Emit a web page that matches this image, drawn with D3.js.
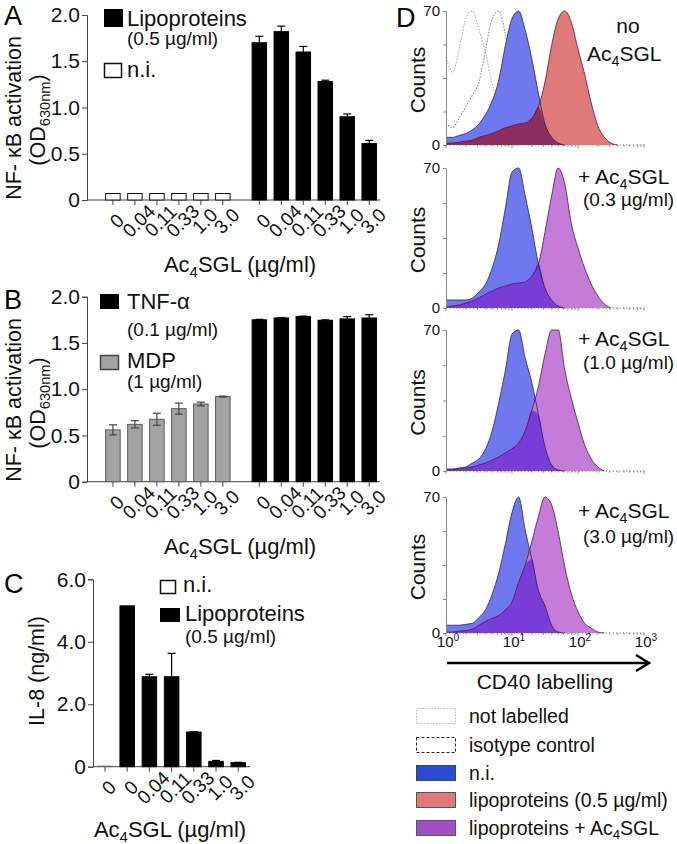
<!DOCTYPE html>
<html><head><meta charset="utf-8">
<script src="https://cdn.jsdelivr.net/npm/d3@7/dist/d3.min.js"></script>
<style>body{margin:0;background:#fff}svg{display:block}</style>
</head><body>
<svg id="fig" width="677" height="844"></svg>
<script>
// ---------------- DATA ----------------
const concLabels = ["0","0.04","0.11","0.33","1.0","3.0"];
// Panel A: NF-kB activation (OD630nm)
const aNi = [0.07,0.07,0.07,0.07,0.07,0.07];
const aLipo = [1.70,1.82,1.60,1.28,0.90,0.61];
const aLipoErr = [0.07,0.06,0.06,0.015,0.03,0.035];
// Panel B
const bMdp = [0.56,0.62,0.675,0.79,0.84,0.92];
const bMdpErr = [0.055,0.04,0.065,0.06,0.02,0.005];
const bTnf = [1.75,1.77,1.785,1.745,1.76,1.77];
const bTnfErr = [0.005,0.005,0.005,0.005,0.025,0.035];
const abTicks = [0,0.5,1.0,1.5,2.0];
const abTickLabels = ["0","0.5","1.0","1.5","2.0"];
// Panel C: IL-8 (ng/ml)
const cLabels = ["0","0","0.04","0.11","0.33","1.0","3.0"];
const cGroups = ["ni","lipo","lipo","lipo","lipo","lipo","lipo"];
const cValues = [0.02,5.15,2.88,2.88,1.11,0.17,0.13];
const cErr = [0,0,0.08,0.75,0.01,0.03,0.01];
const cTicks = [0,2,4,6];
const cTickLabels = ["0","2.0","4.0","6.0"];
// Panel D: flow cytometry histograms, counts at log10(CD40) channels
const logBins = [0,0.1,0.2,0.3,0.4,0.5,0.6,0.7,0.8,0.9,1.0,1.1,1.2,1.3,1.4,1.5,1.6,1.7,1.8,1.9,2.0,2.1,2.2,2.3,2.4,2.5,2.6];
const notLabelled = [46,38,50,66,70,60,48,32,20,14,9,6,4,2.5,1,0,0,0,0,0,0,0,0,0,0,0,0];
const isotype     = [11.5,9,14,20,26,33,50,66,70,58,40,27,18,12,7,4,2,0.5,0,0,0,0,0,0,0,0,0];
const ni1   = [4,4,5,6,8,11,16,23,34,52,66,70,60,45,27,11,4,1,0,0,0,0,0,0,0,0,0];
const lipo1 = [1,1,1.5,2,2.5,4,5,6,7.5,9,10,11,11.5,14,20,33,52,66,70,64,50,37,22,10,4,1,0];
const ni2   = [4,4,4,4,5,8,12,20,32,50,68,70,56,40,22,10,4,1,0,0,0,0,0,0,0,0,0];
const sgl03 = [0.5,1,1.5,2.5,3.5,5,7,8.5,10,11,12,12.5,13,16,22,38,56,70,62,42,30,20,12,6,2,0,0];
const ni3   = [1,1,1.5,2,4,6,11,20,34,50,68,70,56,44,28,12,3,0.5,0,0,0,0,0,0,0,0,0];
const sgl10 = [0.5,0.7,1,1.5,2,3,4,5.5,7,9,11,14,20,30,42,58,70,70,50,36,24,13,6,2,0,0,0];
const ni4   = [4,4,4,4.5,5,8,12,20,31,46,62,70,53,38,22,14,4,0.5,0,0,0,0,0,0,0,0,0];
const sgl30 = [0.5,0.5,1,1.2,2,4,6,7.5,9,12,16,26,35,47,60,70,66,52,34,20,11,5,2.5,0.5,0,0,0];
const dTicks = [0,17.5,35,52.5,70];
const dTickLabels = ["0","","","","70"];
const dDecades = [1,10,100,1000];
const dDecadeExp = ["0","1","2","3"];
const legendD = ["not labelled","isotype control","n.i.","lipoproteins (0.5 µg/ml)","lipoproteins + Ac4SGL"];

// ---------------- HELPERS ----------------
const FONT = "'Liberation Sans', Arial, Helvetica, sans-serif";
const svg = d3.select("#fig").style("font-family", FONT);
svg.append("rect").attr("width",677).attr("height",844).attr("fill","#fff");
const AX = "#444";

// parts: array of [text, kind] kind: undefined | "sub" | "sup"
function rich(g, x, y, parts, size, anchor, rotate) {
  const t = g.append("text").attr("font-size", size).attr("fill", "#111")
    .attr("text-anchor", anchor || "start");
  if (rotate) t.attr("transform", `translate(${x},${y}) rotate(${rotate})`);
  else t.attr("x", x).attr("y", y);
  let cur = 0;
  parts.forEach(p => {
    const [s, kind] = Array.isArray(p) ? p : [p];
    let shift = 0, fs = size;
    if (kind === "sub") { shift = size * 0.22; fs = size * 0.68; }
    if (kind === "sup") { shift = -size * 0.42; fs = size * 0.68; }
    t.append("tspan").attr("dy", shift - cur).attr("font-size", fs).text(s);
    cur = shift;
  });
  return t;
}
const ac4 = (rest) => ["Ac", ["4","sub"], "SGL" + (rest || "")];

function yAxis(g, x, y, ticks, labels, size) {
  const ax = d3.axisLeft(y).tickValues(ticks).tickSize(5).tickPadding(2)
    .tickFormat((d, i) => labels[i]);
  const a = g.append("g").attr("transform", `translate(${x},0)`).call(ax);
  a.select(".domain").attr("stroke", AX);
  a.selectAll(".tick line").attr("stroke", AX);
  a.selectAll("text").attr("font-family", FONT).attr("font-size", size).attr("fill", "#111");
  return a;
}

// ---------------- BAR PANELS A & B ----------------
const groupOffset = 6.66;
function abPanel(top, bottom, series) {
  const g = svg.append("g");
  const y = d3.scaleLinear().domain([0, 2]).range([bottom, top]);
  const x = d3.scaleLinear().domain([-1.18, 12.15]).range([87, 380]);
  const bw = 14.5;
  yAxis(g, 87, y, abTicks, abTickLabels, 21);
  g.append("line").attr("x1", x(-1.18)).attr("x2", x(12.15)).attr("y1", y(0)).attr("y2", y(0)).attr("stroke", AX);
  series.forEach((s, si) => {
    const off = si * groupOffset;
    s.values.forEach((v, i) => {
      const cx = x(i + off);
      g.append("rect").attr("x", cx - bw / 2).attr("width", bw)
        .attr("y", y(v)).attr("height", y(0) - y(v))
        .attr("fill", s.fill).attr("stroke", s.stroke).attr("stroke-width", 1);
      if (s.err) {
        const e = s.err[i];
        const ec = s.errColor;
        g.append("line").attr("x1", cx).attr("x2", cx).attr("y1", y(v + e)).attr("y2", y(s.both ? v - e : v)).attr("stroke", ec).attr("stroke-width", 1.2);
        g.append("line").attr("x1", cx - 4).attr("x2", cx + 4).attr("y1", y(v + e)).attr("y2", y(v + e)).attr("stroke", ec).attr("stroke-width", 1.2);
        if (s.both) g.append("line").attr("x1", cx - 4).attr("x2", cx + 4).attr("y1", y(v - e)).attr("y2", y(v - e)).attr("stroke", ec).attr("stroke-width", 1.2);
      }
      g.append("line").attr("x1", cx).attr("x2", cx).attr("y1", y(0)).attr("y2", y(0) + 5).attr("stroke", AX);
      g.append("text").attr("transform", `translate(${cx + 5},${y(0) + 22}) rotate(-45)`)
        .attr("text-anchor", "middle").attr("dominant-baseline", "middle")
        .attr("font-size", 19).attr("fill", "#111").text(concLabels[i]);
    });
  });
  rich(g, 240, y(0) + 72, ac4(" (µg/ml)"), 22, "middle");
  return {g, x, y};
}

// Panel A
const A = abPanel(15, 200, [
  {values: aNi, fill: "#fff", stroke: "#111"},
  {values: aLipo, fill: "#000", stroke: "#000", err: aLipoErr, errColor: "#000"}
]);
svg.append("text").attr("x", 4).attr("y", 25).attr("font-size", 27).text("A");
rich(A.g, 21, 118, ["NF- κB activation"], 21.5, "middle", -90);
rich(A.g, 45, 120, ["(OD", ["630nm", "sub"], ")"], 21.5, "middle", -90);
A.g.append("rect").attr("x", 104).attr("y", 9).attr("width", 19).attr("height", 18).attr("fill", "#000");
rich(A.g, 127, 26, ["Lipoproteins"], 22);
rich(A.g, 127, 45, ["(0.5 µg/ml)"], 19);
A.g.append("rect").attr("x", 104.5).attr("y", 63.5).attr("width", 17).attr("height", 14).attr("fill", "#fff").attr("stroke", "#111").attr("stroke-width", 1.5);
rich(A.g, 127, 77, ["n.i."], 22);

// Panel B
const B = abPanel(296.7, 481.7, [
  {values: bMdp, fill: "#a3a3a3", stroke: "#5a5a5a", err: bMdpErr, errColor: "#444", both: true},
  {values: bTnf, fill: "#000", stroke: "#000", err: bTnfErr, errColor: "#000"}
]);
svg.append("text").attr("x", 4).attr("y", 309).attr("font-size", 27).text("B");
rich(B.g, 21, 400, ["NF- κB activation"], 21.5, "middle", -90);
rich(B.g, 45, 403, ["(OD", ["630nm", "sub"], ")"], 21.5, "middle", -90);
B.g.append("rect").attr("x", 100).attr("y", 294).attr("width", 19).attr("height", 15).attr("fill", "#000");
rich(B.g, 127, 309, ["TNF-α"], 22);
rich(B.g, 127, 336, ["(0.1 µg/ml)"], 19);
B.g.append("rect").attr("x", 100.5).attr("y", 355.5).attr("width", 18).attr("height", 14).attr("fill", "#a3a3a3").attr("stroke", "#444").attr("stroke-width", 1.5);
rich(B.g, 127, 368, ["MDP"], 22);
rich(B.g, 127, 388, ["(1 µg/ml)"], 19);

// ---------------- PANEL C ----------------
(function () {
  const g = svg.append("g");
  const y = d3.scaleLinear().domain([0, 6]).range([766.7, 579.3]);
  const x = d3.scaleLinear().domain([-0.54, 6.53]).range([93, 250]);
  const bw = 14.5;
  yAxis(g, 93, y, cTicks, cTickLabels, 21);
  g.append("line").attr("x1", 93).attr("x2", x(6.53)).attr("y1", y(0)).attr("y2", y(0)).attr("stroke", AX);
  cValues.forEach((v, i) => {
    const cx = x(i);
    const ni = cGroups[i] === "ni";
    g.append("rect").attr("x", cx - bw / 2).attr("width", bw).attr("y", y(v)).attr("height", y(0) - y(v))
      .attr("fill", ni ? "#fff" : "#000").attr("stroke", ni ? "#666" : "#000").attr("stroke-width", ni ? 0.8 : 1);
    if (cErr[i] > 0) {
      g.append("line").attr("x1", cx).attr("x2", cx).attr("y1", y(v + cErr[i])).attr("y2", y(v)).attr("stroke", "#000").attr("stroke-width", 1.2);
      g.append("line").attr("x1", cx - 4).attr("x2", cx + 4).attr("y1", y(v + cErr[i])).attr("y2", y(v + cErr[i])).attr("stroke", "#000").attr("stroke-width", 1.2);
    }
    g.append("line").attr("x1", cx).attr("x2", cx).attr("y1", y(0)).attr("y2", y(0) + 5).attr("stroke", AX);
    g.append("text").attr("transform", `translate(${cx + 5},${y(0) + 22}) rotate(-45)`)
      .attr("text-anchor", "middle").attr("dominant-baseline", "middle")
      .attr("font-size", 19).attr("fill", "#111").text(cLabels[i]);
  });
  rich(g, 170, y(0) + 70, ac4(" (µg/ml)"), 22, "middle");
  svg.append("text").attr("x", 4).attr("y", 593).attr("font-size", 27).text("C");
  rich(g, 44, 671, ["IL-8 (ng/ml)"], 21.5, "middle", -90);
  g.append("rect").attr("x", 160.5).attr("y", 580.5).attr("width", 15).attr("height", 13).attr("fill", "#fff").attr("stroke", "#111").attr("stroke-width", 1.5);
  rich(g, 183, 592, ["n.i."], 22);
  g.append("rect").attr("x", 160).attr("y", 608).attr("width", 20).attr("height", 14).attr("fill", "#000");
  rich(g, 185, 621, ["Lipoproteins"], 22);
  rich(g, 185, 643, ["(0.5 µg/ml)"], 19);
})();

// ---------------- PANEL D ----------------
const x = d3.scaleLog().domain([1, 1000]).range([446, 644]);
const BLUE = "#7078f0", RED = "#e07a78", OV_RED = "#8c2e62", PURPLE = "#c47cd8", OV_PUR = "#7a3cd6";
const subs = [
  {top: 11, bottom: 145, other: lipo1, ni: ni1, fill: RED, ov: OV_RED, controls: true},
  {top: 168, bottom: 308, other: sgl03, ni: ni2, fill: PURPLE, ov: OV_PUR},
  {top: 330, bottom: 471, other: sgl10, ni: ni3, fill: PURPLE, ov: OV_PUR},
  {top: 497, bottom: 633, other: sgl30, ni: ni4, fill: PURPLE, ov: OV_PUR}
];
subs.forEach((s, k) => {
  const g = svg.append("g");
  const y = d3.scaleLinear().domain([0, 70]).range([s.bottom, s.top]);
  const pts = arr => arr.map((c, i) => [Math.pow(10, logBins[i]), c]);
  const area = d3.area().x(d => x(d[0])).y0(y(0)).y1(d => y(d[1])).curve(d3.curveMonotoneX);
  const line = d3.line().x(d => x(d[0])).y(d => y(d[1])).curve(d3.curveMonotoneX);
  const trim = arr => {
    let last = arr.length - 1; while (last > 0 && arr[last - 1] === 0) last--; return pts(arr).slice(0, last + 1);
  };
  g.append("line").attr("x1", 446).attr("x2", 645).attr("y1", y(0)).attr("y2", y(0))
    .attr("stroke", "#666").attr("stroke-width", 1).attr("stroke-dasharray", "1.2,2.2");
  if (s.controls) {
    g.append("path").attr("d", line(trim(notLabelled))).attr("fill", "none").attr("stroke", "#b5b5b5").attr("stroke-width", 1.2).attr("stroke-dasharray", "1.5,1.5");
    g.append("path").attr("d", line(trim(isotype))).attr("fill", "none").attr("stroke", "#8a8a8a").attr("stroke-width", 1.1).attr("stroke-dasharray", "1.5,1.5");
  }
  const ov = s.ni.map((v, i) => Math.min(v, s.other[i]));
  g.append("path").attr("d", area(trim(s.ni))).attr("fill", BLUE);
  g.append("path").attr("d", area(trim(s.other))).attr("fill", s.fill);
  g.append("path").attr("d", area(trim(ov))).attr("fill", s.ov);
  g.append("path").attr("d", line(trim(s.ni))).attr("fill", "none").attr("stroke", "#23234a").attr("stroke-width", 0.8);
  g.append("path").attr("d", line(trim(s.other))).attr("fill", "none").attr("stroke", "#3a2040").attr("stroke-width", 0.8);
  const ya = g.append("g").attr("transform", "translate(446,0)")
    .call(d3.axisLeft(y).tickValues(dTicks).tickSize(3).tickPadding(3).tickFormat((d, i) => dTickLabels[i]));
  ya.select(".domain").attr("stroke", "#888");
  ya.selectAll(".tick line").attr("stroke", "#888");
  ya.selectAll("text").attr("font-family", FONT).attr("font-size", 15).attr("fill", "#111");
  const minor = [];
  dDecades.slice(0, 3).forEach(d => { for (let m = 1; m < 10; m++) minor.push(d * m); });
  minor.push(1000);
  g.selectAll(".mt").data(minor).join("line")
    .attr("x1", d => x(d)).attr("x2", d => x(d)).attr("y1", y(0)).attr("y2", d => y(0) + (dDecades.includes(d) ? 3 : 1.8))
    .attr("stroke", "#777").attr("stroke-width", 0.8);
  rich(g, 425, (s.top + s.bottom) / 2 + 2, ["Counts"], 21, "middle", -90);
  if (k === 3) {
    dDecades.forEach((d, i) => rich(g, x(d) + 2, s.bottom + 14, ["10", [dDecadeExp[i], "sup"]], 15, "middle"));
  }
});
svg.append("text").attr("x", 396).attr("y", 27).attr("font-size", 27).text("D");
rich(svg, 628, 33, ["no"], 21, "middle");
rich(svg, 587, 61, ac4(), 21);
const doseLabels = ["(0.3 µg/ml)", "(1.0 µg/ml)", "(3.0 µg/ml)"];
[[184, 206], [346, 369], [518, 543]].forEach((p, i) => {
  rich(svg, 578, p[0], ["+ "].concat(ac4()), 21);
  rich(svg, 583, p[1], [doseLabels[i]], 19);
});
svg.append("line").attr("x1", 447).attr("x2", 648).attr("y1", 663).attr("y2", 663).attr("stroke", "#000").attr("stroke-width", 2.5);
svg.append("path").attr("d", "M636,655 L649,663 L636,671").attr("fill", "none").attr("stroke", "#000").attr("stroke-width", 2.5);
rich(svg, 545, 689, ["CD40 labelling"], 21, "middle");
const legStyles = [
  {fill: "#fff", stroke: "#bbb", dash: "1.5,1.5"},
  {fill: "#fff", stroke: "#222", dash: "3,2"},
  {fill: "#2a4bd3", stroke: "#444"},
  {fill: "#e07a7a", stroke: "#555"},
  {fill: "#a24fc6", stroke: "#555"}
];
const legY = [708, 737, 765, 792, 820];
legendD.forEach((t, i) => {
  const st = legStyles[i];
  svg.append("rect").attr("x", 416.5).attr("y", legY[i] + 0.5).attr("width", 39).attr("height", 15)
    .attr("fill", st.fill).attr("stroke", st.stroke).attr("stroke-width", 1).attr("stroke-dasharray", st.dash || null);
  const parts = i === 4 ? ["lipoproteins + "].concat(ac4()) : [t];
  rich(svg, 469, legY[i] + 15, parts, 19.5);
});
</script>
</body></html>
